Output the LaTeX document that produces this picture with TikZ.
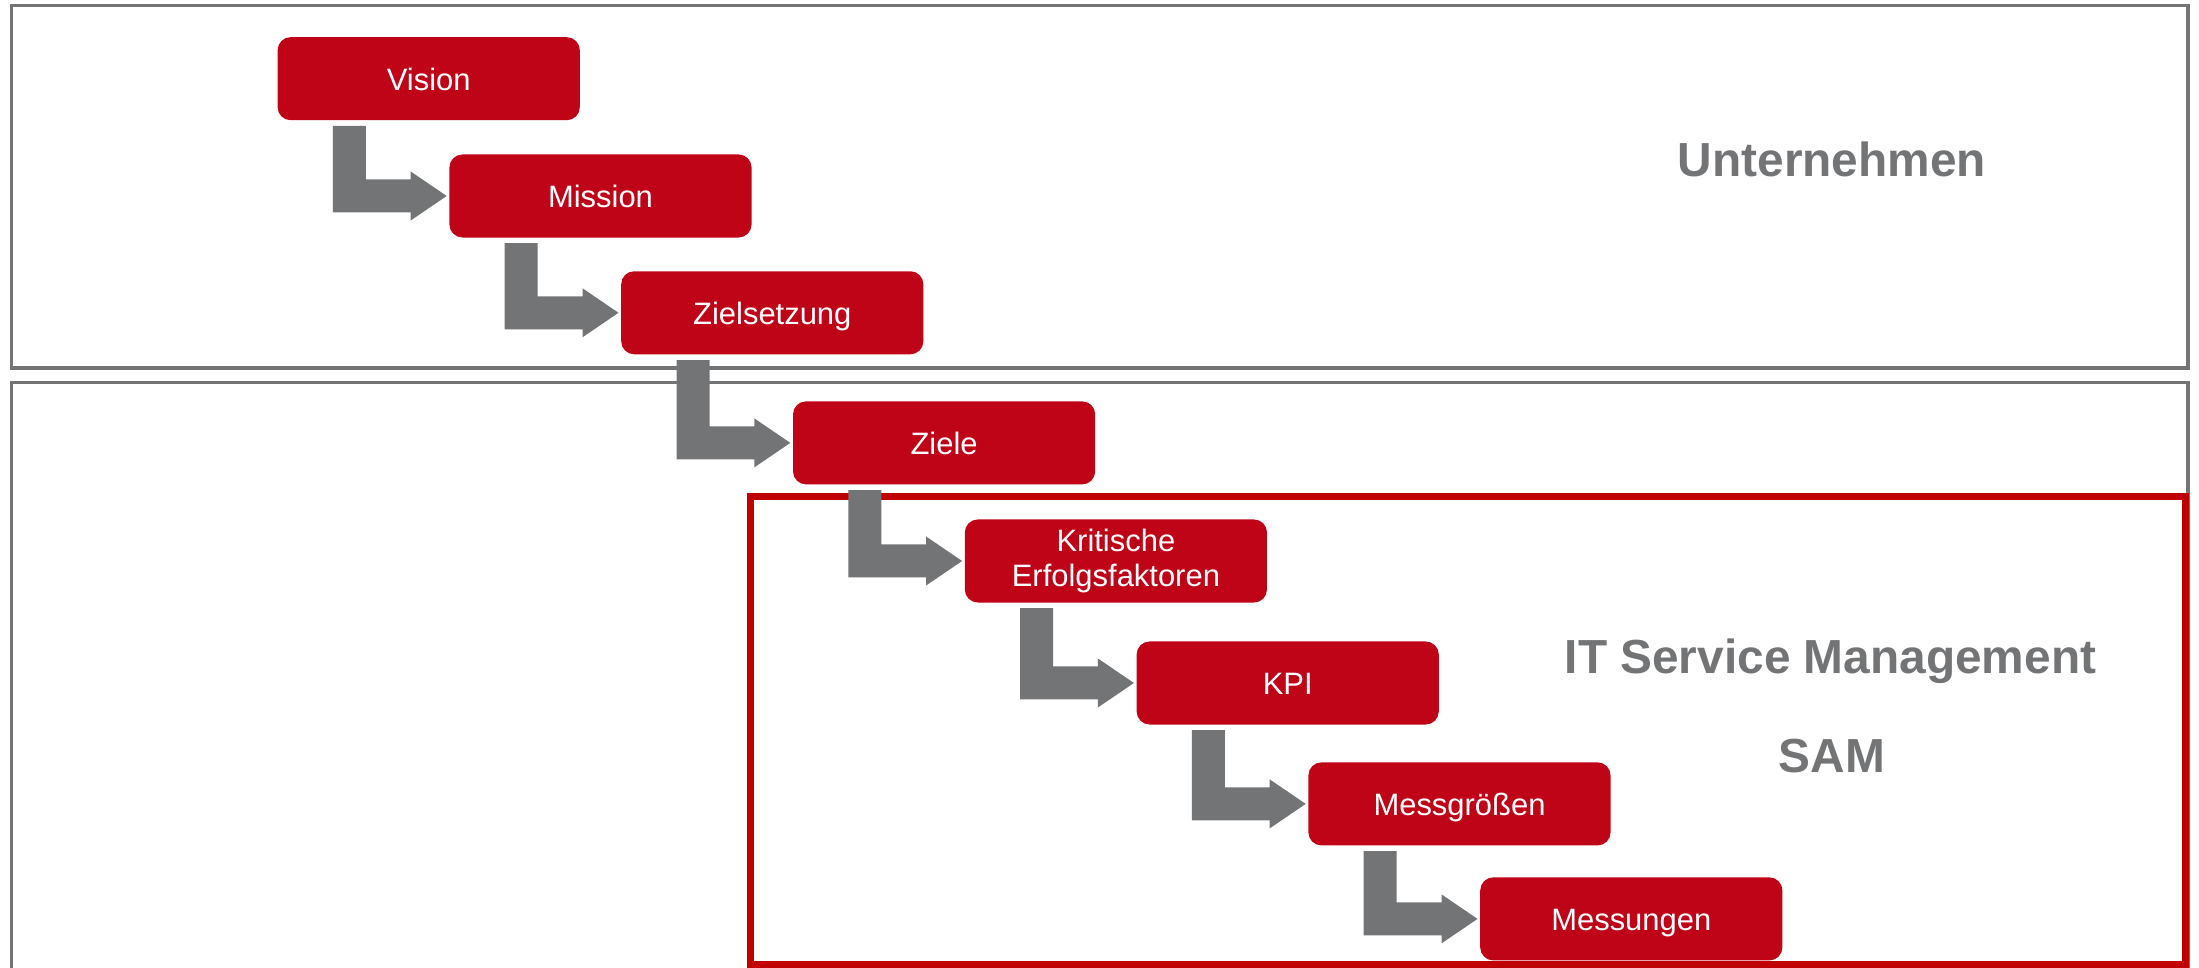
\documentclass[tikz,border=0pt]{standalone}
\usepackage{fontspec}
\setmainfont{Liberation Sans}
\usetikzlibrary{positioning,calc}

\definecolor{boxred}{RGB}{192,4,24}
\definecolor{framegray}{RGB}{115,116,118}
\definecolor{framered}{RGB}{192,0,0}

\tikzset{
  redbox/.style={fill=boxred, rounded corners=0.13cm, minimum width=3.02cm, minimum height=0.83cm,
    inner sep=0pt, text=white, font={\fontsize{8.8pt}{10pt}\selectfont}},
  oneline/.style={redbox, text height=6.6pt, text depth=0pt},
  bigtext/.style={text=framegray, anchor=base, inner sep=0pt, font={\bfseries\fontsize{13.6pt}{16pt}\selectfont}},
  turnarrow/.style={fill=framegray},
}

\begin{document}
\begin{tikzpicture}[x=0.01cm,y=-0.01cm]
\useasboundingbox (0,0) rectangle (2199,968);
\clip (0,0) rectangle (2199,968);
% frames
\draw[framegray, line width=0.035cm] (11.5,5.5) rectangle (2188,368);
\draw[framegray, line width=0.035cm] (11.5,1000) -- (11.5,382.5) -- (2188,382.5) -- (2188,1000);
\draw[framered, line width=0.07cm] (750,497) rectangle (2185,964.5);
% steps
\node[oneline] (vision) at (428.7,78.7) {Vision};
\node[oneline] (mission) at (600.5,196) {Mission};
\node[oneline] (zielsetzung) at (772.3,312.8) {Zielsetzung};
\node[oneline] (ziele) at (944.1,442.9) {Ziele};
\node[redbox, align=center] (kef) at (1115.9,561) {Kritische\\Erfolgsfaktoren};
\node[oneline] (kpi) at (1287.7,683) {KPI};
\node[oneline] (messgr) at (1459.5,803.9) {Messgrößen};
\node[oneline] (messungen) at (1631.3,918.9) {Messungen};
% arrows
\foreach \s/\t in {vision/mission, mission/zielsetzung, zielsetzung/ziele, ziele/kef, kef/kpi, kpi/messgr, messgr/messungen}
  \fill[turnarrow] ($(\s.south west)+(56,5)$) -- ($(\s.south west)+(89,5)$) |- ($(\t.west)+(-38,-16.5)$)
    -- ($(\t.west)+(-38,-24.5)$) -- ($(\t.west)+(-2,0)$) -- ($(\t.west)+(-38,24.5)$)
    -- ($(\t.west)+(-38,16.5)$) -| ($(\s.south west)+(56,5)$) -- cycle;
% labels
\node[bigtext] (unternehmen) at (1832,176.7) {Unternehmen};
\node[bigtext] (itsm) at (1830.5,673.3) {IT Service Management};
\node[bigtext] (sam) at (1832,772.7) {SAM};
\end{tikzpicture}
\end{document}
